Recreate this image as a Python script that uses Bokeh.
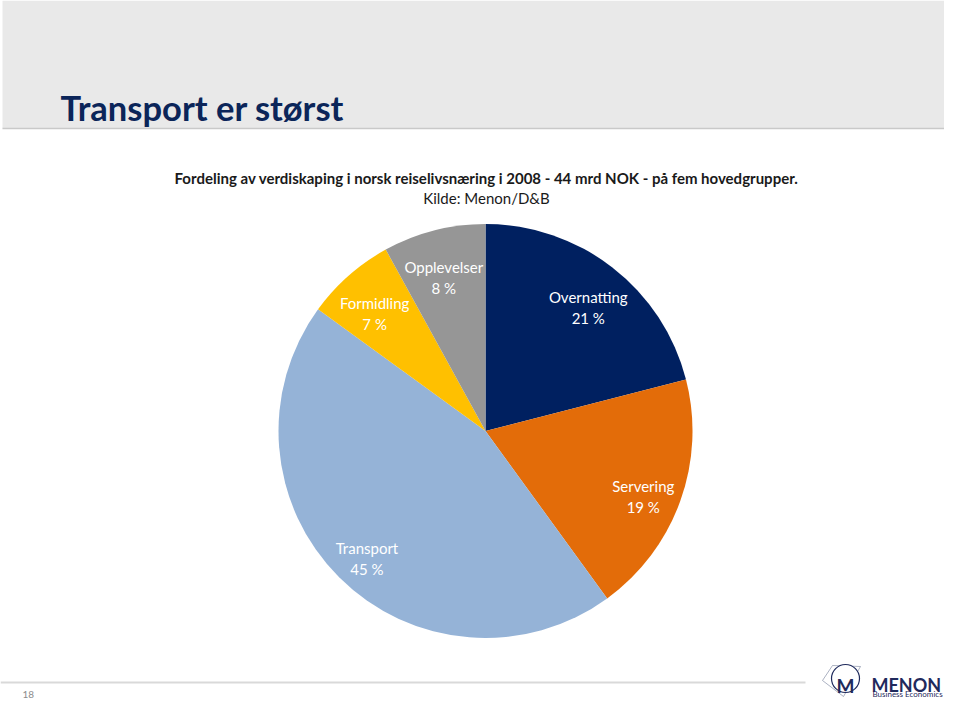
import numpy as np
from bokeh.plotting import figure
from bokeh.models import ColumnDataSource, Range1d, Label
from bokeh.core.properties import value
from bokeh.embed import file_html
from bokeh.resources import INLINE

# ---- data ----
categories = ["Overnatting", "Servering", "Transport", "Formidling", "Opplevelser"]
shares = [21, 19, 45, 7, 8]
colors = ["#002060", "#E36C09", "#95B3D7", "#FFC000", "#969696"]
title = "Transport er størst"
subtitle1 = "Fordeling av verdiskaping i norsk reiselivsnæring i 2008 - 44 mrd NOK - på fem hovedgrupper."
subtitle2 = "Kilde: Menon/D&B"
page_number = "18"

W, H = 944, 699
def Y(yref):
    return 715 - yref

p = figure(width=W, height=H, output_backend="svg", toolbar_location=None,
           x_range=Range1d(0, 944), y_range=Range1d(16, 715),
           x_axis_type=None, y_axis_type=None, min_border=0)
p.outline_line_color = None
p.grid.visible = False
p.background_fill_color = "white"
p.border_fill_color = "white"

# header band
p.quad(left=[2], right=[944], top=[Y(0)], bottom=[Y(128)], fill_color="#E9E9E9", line_color=None)
p.segment(x0=[2], y0=[Y(128)], x1=[944], y1=[Y(128)], line_color="#C9C9C9", line_width=1.5)

p.add_layout(Label(x=60, y=Y(107), text=title, text_font="Lato", text_font_style="bold",
                   text_font_size="34.5px", text_color="#0B2559", text_baseline="alphabetic"))
p.add_layout(Label(x=486, y=Y(177), text=subtitle1, text_font="Lato", text_font_style="bold",
                   text_font_size="15px", text_color="#1A1A1A", text_align="center",
                   text_baseline="alphabetic"))
p.add_layout(Label(x=486, y=Y(197), text=subtitle2, text_font="Lato",
                   text_font_size="15px", text_color="#1A1A1A", text_align="center",
                   text_baseline="alphabetic"))

# pie
cx, cy, r = 485, Y(430.5), 207
vals = np.array(shares, dtype=float)
frac = vals / vals.sum()
cum = np.concatenate([[0], np.cumsum(frac)])
start = np.pi / 2 - 2 * np.pi * cum[:-1]
end = np.pi / 2 - 2 * np.pi * cum[1:]
mid = (start + end) / 2
src = ColumnDataSource(dict(cat=categories, start=start, end=end, color=colors,
                            lx=cx + 0.81 * r * np.cos(mid), ly=cy + 0.81 * r * np.sin(mid) - 8,
                            l1=categories, l2=[f"{v:g} %" for v in shares]))
p.wedge(x=cx, y=cy, radius=r, start_angle="start", end_angle="end", direction="clock",
        fill_color="color", line_color=None, source=src)
p.text(x="lx", y="ly", text="l1", source=src, text_font=value("Lato"), text_font_size="15px",
       text_color="white", text_align="center", text_baseline="bottom", y_offset=-1)
p.text(x="lx", y="ly", text="l2", source=src, text_font=value("Lato"), text_font_size="15px",
       text_color="white", text_align="center", text_baseline="top", y_offset=2)

# footer (kept inside the visible frame)
p.segment(x0=[0], y0=[Y(682)], x1=[805], y1=[Y(682)], line_color="#D9D9D9", line_width=2)
p.add_layout(Label(x=22, y=Y(694), text=page_number, text_font="Lato", text_font_size="10px",
                   text_color="#8C8C8C", text_baseline="alphabetic"))

# logo
navy = "#1F2A5C"
p.line(x=[832, 822, 843, 860, 832], y=[Y(665), Y(680), Y(696), Y(666), Y(665)],
       line_color="#8890A8", line_width=0.7)
p.circle(x=[845], y=[Y(678)], radius=14, fill_color="white", line_color=navy, line_width=1.2)
p.add_layout(Label(x=845, y=Y(685), text="M", text_font="Lato", text_font_style="bold",
                   text_font_size="19px", text_color=navy, text_align="center", text_baseline="alphabetic"))
p.add_layout(Label(x=871, y=Y(684), text="MENON", text_font="Lato", text_font_style="bold",
                   text_font_size="18px", text_color=navy, text_baseline="alphabetic"))
p.add_layout(Label(x=872, y=Y(693), text="Business Economics", text_font="Lato",
                   text_font_size="8px", text_color=navy, text_baseline="alphabetic"))

open("out.html", "w").write(file_html(p, INLINE))
